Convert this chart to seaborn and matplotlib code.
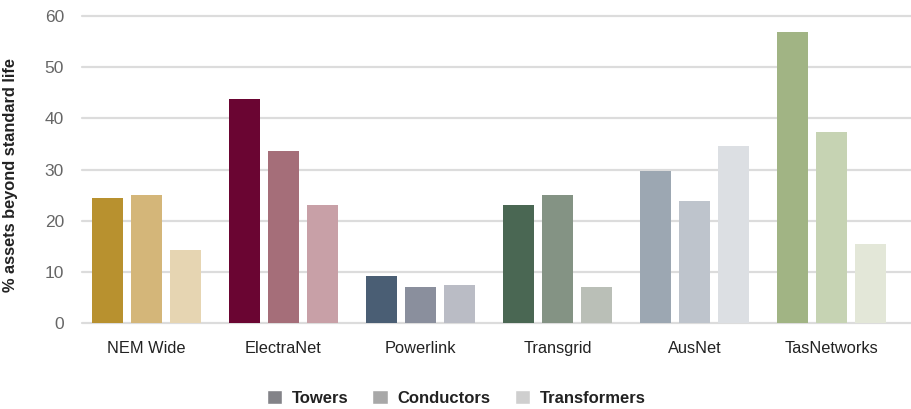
import matplotlib
matplotlib.use("Agg")
import matplotlib.pyplot as plt
import seaborn as sns
import pandas as pd

# data
networks = ["NEM Wide", "ElectraNet", "Powerlink", "Transgrid", "AusNet", "TasNetworks"]
asset_types = ["Towers", "Conductors", "Transformers"]
towers = [24.4, 43.8, 9.1, 23.0, 29.7, 56.8]
conductors = [25.0, 33.6, 7.1, 25.0, 23.8, 37.4]
transformers = [14.2, 23.0, 7.5, 7.1, 34.6, 15.4]

# colours per network: dark, medium, light
network_colors = {
    "NEM Wide": ["#b8912f", "#d4b679", "#e6d5b2"],
    "ElectraNet": ["#6a0532", "#a56e79", "#c8a0a7"],
    "Powerlink": ["#4a5e74", "#8a8f9d", "#babcc5"],
    "Transgrid": ["#4a6753", "#849384", "#babfb7"],
    "AusNet": ["#9ca7b2", "#bec4cc", "#dcdfe3"],
    "TasNetworks": ["#a1b484", "#c6d3b3", "#e3e7d8"],
}
legend_greys = ["#828289", "#a8a8a8", "#cfcfcf"]


def plot_assets():
    df = pd.DataFrame({
        "network": networks * 3,
        "asset": [a for a in asset_types for _ in networks],
        "value": towers + conductors + transformers,
    })

    sns.set_style("white")
    plt.rcParams["font.family"] = ["Liberation Sans", "DejaVu Sans"]

    fig = plt.figure(figsize=(9.12, 4.09), dpi=100)
    ax = fig.add_axes([82 / 912, 1 - 323 / 409, 829 / 912, (323 - 16) / 409])

    sns.barplot(
        data=df,
        x="network",
        y="value",
        hue="asset",
        order=networks,
        hue_order=asset_types,
        palette=legend_greys,
        width=0.855,
        gap=0.2,
        ax=ax,
        zorder=2,
        legend=True,
    )

    # recolour each bar with its network colour
    for k, container in enumerate(ax.containers):
        for j, bar in enumerate(container):
            bar.set_facecolor(network_colors[networks[j]][k])
            bar.set_edgecolor("none")

    ax.set_xlim(-0.47, 5.58)
    ax.set_ylim(0, 60)
    ax.set_yticks(range(0, 61, 10))
    ax.yaxis.grid(True, color="#dcdcdc", linewidth=1.6, zorder=0)
    ax.set_axisbelow(True)
    for s in ax.spines.values():
        s.set_visible(False)
    ax.tick_params(axis="y", length=0, labelsize=12.5, labelcolor="#666666", pad=13)
    ax.tick_params(axis="x", length=0, labelsize=11.8, labelcolor="#222222", pad=13)
    ax.set_xlabel("")
    ax.set_ylabel("% assets beyond standard life", fontsize=11.8, fontweight="bold",
                  color="#222222")
    ax.yaxis.set_label_coords(-0.077, 0.482)
    for line in ax.get_ygridlines():
        line.set_clip_on(False)

    handles, labels = ax.get_legend_handles_labels()
    ax.legend_.remove()
    fig.legend(
        handles=handles,
        labels=labels,
        loc="center",
        bbox_to_anchor=(0.5, 1 - 398 / 409),
        ncol=3,
        frameon=False,
        handlelength=0.95,
        handleheight=0.95,
        handletextpad=0.55,
        columnspacing=1.45,
        prop={"weight": "bold", "size": 12},
        labelcolor="#222222",
    )

    fig.savefig("out.png", dpi=100)


if __name__ == "__main__":
    plot_assets()
